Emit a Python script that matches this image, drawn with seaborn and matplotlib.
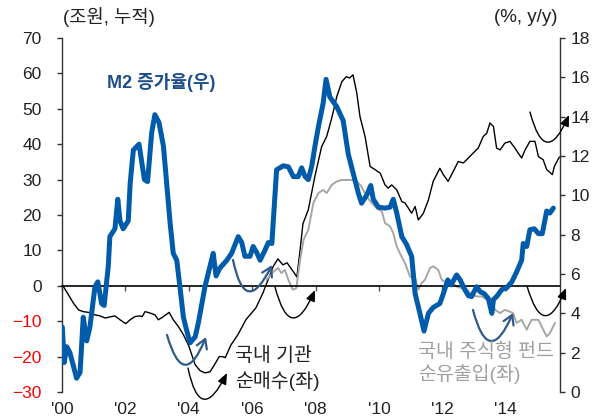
import matplotlib
matplotlib.use("Agg")
import matplotlib.pyplot as plt
import seaborn as sns

# 국내 기관 순매수 (좌, 조원 누적)
inst_year = [2000.01, 2000.20, 2000.36, 2000.52, 2000.67, 2000.83, 2001.04, 2001.20, 2001.36, 2001.51,
             2001.67, 2001.83, 2002.01, 2002.15, 2002.30, 2002.46, 2002.53, 2002.62, 2002.78, 2002.93,
             2003.04, 2003.20, 2003.38, 2003.51, 2003.67, 2003.83, 2004.00, 2004.20, 2004.36, 2004.51,
             2004.67, 2004.83, 2004.96, 2005.06, 2005.15, 2005.33, 2005.55, 2005.80, 2005.93, 2006.12,
             2006.34, 2006.50, 2006.66, 2006.81, 2006.97, 2007.10, 2007.32, 2007.41, 2007.51, 2007.60,
             2007.77, 2007.98, 2008.19, 2008.35, 2008.51, 2008.67, 2008.83, 2008.97, 2009.07, 2009.18,
             2009.30, 2009.40, 2009.56, 2009.72, 2009.88, 2010.04, 2010.19, 2010.29, 2010.40, 2010.56,
             2010.72, 2010.82, 2010.93, 2011.03, 2011.14, 2011.24, 2011.40, 2011.56, 2011.71, 2011.92,
             2012.03, 2012.18, 2012.34, 2012.50, 2012.66, 2012.82, 2012.97, 2013.13, 2013.29, 2013.40,
             2013.50, 2013.61, 2013.71, 2013.82, 2013.97, 2014.13, 2014.29, 2014.39, 2014.50, 2014.61,
             2014.76, 2014.92, 2015.03, 2015.18, 2015.29, 2015.36, 2015.47, 2015.53, 2015.69]
inst_val = [0.3, -2.5, -4.9, -6.8, -7.3, -7.5, -8.2, -8.5, -9.1, -8.8,
            -8.5, -9.6, -10.7, -9.6, -8.7, -8.5, -8.7, -7.3, -7.7, -8.2,
            -9.6, -8.7, -7.5, -9.6, -11.5, -13.8, -17.0, -22.3, -24.0, -24.6,
            -24.3, -22.0, -20.0, -20.0, -20.3, -16.7, -13.8, -9.6, -8.2, -6.2,
            -2.0, 1.7, 5.4, 7.6, 5.9, 6.5, 3.7, 2.5, 10.0, 17.5,
            21.5, 31.0, 39.3, 42.2, 47.4, 53.5, 57.7, 59.1, 58.7, 59.6,
            54.4, 47.8, 42.2, 33.7, 32.8, 31.8, 28.5, 27.6, 28.5, 27.1,
            23.8, 23.4, 21.9, 20.5, 22.4, 18.6, 20.5, 24.3, 29.5, 33.2,
            31.4, 29.5, 32.3, 35.1, 34.7, 36.1, 37.5, 38.9, 42.2, 43.1,
            46.0, 45.0, 38.9, 38.4, 40.3, 40.8, 38.9, 37.5, 36.1, 38.4,
            40.8, 40.8, 36.5, 35.6, 32.8, 32.3, 31.4, 33.7, 36.4]

# 국내 주식형 펀드 순유출입 (좌)
fund_year = [2006.45, 2006.67, 2006.82, 2006.92, 2007.03, 2007.14, 2007.28, 2007.39, 2007.51, 2007.62,
             2007.77, 2007.93, 2008.09, 2008.24, 2008.35, 2008.51, 2008.67, 2008.83, 2008.99, 2009.14,
             2009.30, 2009.45, 2009.61, 2009.77, 2009.93, 2010.09, 2010.19, 2010.35, 2010.45, 2010.56,
             2010.66, 2010.82, 2010.98, 2011.14, 2011.24, 2011.35, 2011.45, 2011.61, 2011.71, 2011.87,
             2011.98, 2012.14, 2012.29, 2012.45, 2012.61, 2012.77, 2012.92, 2013.08, 2013.24, 2013.40,
             2013.56, 2013.66, 2013.82, 2013.97, 2014.13, 2014.23, 2014.34, 2014.50, 2014.66, 2014.81,
             2015.03, 2015.13, 2015.29, 2015.39, 2015.55]
fund_val = [1.7, 4.0, 5.0, 3.6, 4.5, 1.7, -1.1, -0.7, 7.3, 13.0,
            15.8, 23.4, 26.2, 27.1, 26.2, 28.5, 29.5, 29.9, 29.9, 29.9,
            29.5, 28.0, 25.2, 23.4, 21.9, 21.0, 17.7, 16.8, 14.9, 11.1,
            9.2, 6.4, 2.6, 2.2, -1.1, 0.8, 1.7, 5.0, 5.5, 4.5,
            1.7, 0.8, 1.2, -0.2, -0.7, -1.1, -2.5, -3.0, -3.0, -3.9,
            -3.9, -6.8, -7.7, -6.8, -7.3, -7.7, -10.5, -9.6, -12.4, -9.6,
            -9.6, -11.5, -14.3, -13.4, -10.5]

# M2 증가율 (우, % y/y)
m2_year = [2000.01, 2000.07, 2000.15, 2000.25, 2000.46, 2000.57, 2000.67, 2000.78, 2000.88, 2001.04,
           2001.13, 2001.25, 2001.33, 2001.46, 2001.51, 2001.67, 2001.76, 2001.83, 2001.93, 2002.09,
           2002.15, 2002.25, 2002.43, 2002.60, 2002.70, 2002.83, 2002.93, 2003.06, 2003.20, 2003.41,
           2003.51, 2003.62, 2003.72, 2003.83, 2003.93, 2004.04, 2004.20, 2004.30, 2004.51, 2004.67,
           2004.77, 2004.86, 2004.98, 2005.20, 2005.35, 2005.46, 2005.56, 2005.67, 2005.77, 2005.93,
           2006.03, 2006.14, 2006.25, 2006.40, 2006.51, 2006.62, 2006.77, 2006.98, 2007.14, 2007.30,
           2007.45, 2007.56, 2007.67, 2007.77, 2007.88, 2007.98, 2008.09, 2008.24, 2008.33, 2008.45,
           2008.67, 2008.87, 2009.03, 2009.19, 2009.35, 2009.45, 2009.61, 2009.74, 2009.82, 2009.98,
           2010.19, 2010.35, 2010.45, 2010.56, 2010.72, 2010.87, 2011.03, 2011.14, 2011.29, 2011.42,
           2011.56, 2011.71, 2011.92, 2012.03, 2012.17, 2012.27, 2012.45, 2012.56, 2012.71, 2012.82,
           2012.92, 2013.08, 2013.19, 2013.32, 2013.45, 2013.56, 2013.61, 2013.71, 2013.87, 2014.03,
           2014.19, 2014.34, 2014.50, 2014.55, 2014.66, 2014.76, 2014.90, 2015.03, 2015.15, 2015.29,
           2015.39, 2015.50]
m2_val = [3.3, 1.5, 2.3, 2.0, 0.7, 1.0, 3.8, 2.6, 3.3, 5.35,
          5.6, 4.5, 4.4, 6.4, 7.9, 8.3, 9.8, 8.7, 8.3, 8.7,
          10.6, 12.3, 12.6, 10.8, 10.7, 13.2, 14.1, 13.7, 12.5, 8.6,
          7.05, 6.7, 5.35, 3.8, 3.15, 2.5, 2.8, 3.5, 5.35, 6.4,
          7.05, 5.9, 6.3, 6.7, 7.05, 7.5, 7.9, 7.6, 6.9, 6.9,
          7.4, 7.1, 6.7, 7.2, 7.6, 7.55, 11.3, 11.5, 11.45, 10.95,
          10.95, 11.4, 10.95, 10.8, 11.5, 12.5, 13.5, 14.7, 15.9, 15.0,
          14.5, 13.8, 12.1, 11.1, 10.1, 9.6, 10.0, 10.5, 9.8, 9.4,
          9.35, 9.4, 9.8, 9.1, 7.9, 7.5, 6.9, 5.0, 4.0, 3.1,
          4.0, 4.3, 4.5, 5.0, 5.7, 5.45, 5.95, 5.7, 5.2, 4.9,
          4.85, 5.35, 5.1, 5.0, 4.75, 4.0, 4.7, 4.85, 5.2, 5.3,
          5.6, 6.1, 6.7, 7.55, 7.4, 8.25, 8.3, 8.05, 8.05, 9.2,
          9.1, 9.35]

year_ticks = [2000, 2002, 2004, 2006, 2008, 2010, 2012, 2014]
year_labels = ["'00", "'02", "'04", "'06", "'08", "'10", "'12", "'14"]
left_ticks = [-30, -20, -10, 0, 10, 20, 30, 40, 50, 60, 70]
right_ticks = [0, 2, 4, 6, 8, 10, 12, 14, 16, 18]

W, H = 604, 419


def fpos(x, y):
    # pixel position (from top-left) -> figure fraction
    return (x / W, 1 - y / H)


sns.set_theme(style="white")
plt.rcParams["font.family"] = ["Liberation Sans", "Noto Sans CJK KR", "DejaVu Sans"]

fig = plt.figure(figsize=(W / 100, H / 100), dpi=100)
ax = fig.add_axes([62 / W, 1 - 392 / H, (560 - 62) / W, (392 - 38) / H])
ax2 = ax.twinx()

sns.lineplot(x=inst_year, y=inst_val, ax=ax, color="black", linewidth=1.0)
sns.lineplot(x=fund_year, y=fund_val, ax=ax, color="#a6a6a6", linewidth=1.4)
sns.lineplot(x=m2_year, y=m2_val, ax=ax2, color="#005BAA", linewidth=3.6)

ax.set_xlim(2000, 2015.71)
ax.set_ylim(-30, 70)
ax2.set_ylim(0, 18)
for a in (ax, ax2):
    a.set_xlabel("")
    a.set_ylabel("")
    a.grid(False)
    a.set_facecolor("none")

spine_col = "#333333"
ax.spines["top"].set_visible(False)
ax.spines["right"].set_visible(False)
ax.spines["bottom"].set_position(("data", 0))
ax.spines["bottom"].set_color("black")
ax.spines["bottom"].set_linewidth(1.2)
ax.spines["left"].set_color(spine_col)
ax.spines["left"].set_linewidth(1.0)
for s in ("top", "left", "bottom"):
    ax2.spines[s].set_visible(False)
ax2.spines["right"].set_color(spine_col)
ax2.spines["right"].set_linewidth(1.0)

tick_size = 12.5
ax.set_xticks(year_ticks)
ax.set_xticklabels(year_labels)
ax.tick_params(axis="x", direction="out", length=3.6, width=1.0, color="#555555",
               pad=80, labelsize=tick_size, labelcolor="#222222", bottom=True)

ax.set_yticks(left_ticks)
ax.set_yticklabels([str(v).replace("-", "\u2212") for v in left_ticks])
ax.tick_params(axis="y", direction="out", length=3.6, width=1.0, color=spine_col,
               pad=11, labelsize=tick_size, left=True)
for lab, v in zip(ax.get_yticklabels(), left_ticks):
    lab.set_color("#ff0000" if v < 0 else "#222222")

ax2.set_yticks(right_ticks)
ax2.tick_params(axis="y", direction="out", length=3.6, width=1.0, color=spine_col,
                pad=4, labelsize=tick_size, labelcolor="#222222", right=True)

# 단위
fig.text(*fpos(63, 17), "(조원, 누적)", ha="left", va="center", fontsize=13.5, color="#222222")
fig.text(*fpos(557, 18), "(%, y/y)", ha="right", va="center", fontsize=13.5, color="#222222")

# 계열 이름
fig.text(*fpos(107, 82), "M2 증가율(우)", ha="left", va="center", fontsize=13,
         fontweight="bold", color="#1F4E8C")
fig.text(*fpos(235, 356), "국내 기관", ha="left", va="center", fontsize=14, color="#222222")
fig.text(*fpos(235, 381), "순매수(좌)", ha="left", va="center", fontsize=14, color="#222222")
fig.text(*fpos(418, 352), "국내 주식형 펀드", ha="left", va="center", fontsize=14, color="#a0a0a0")
fig.text(*fpos(418, 374), "순유출입(좌)", ha="left", va="center", fontsize=14, color="#a0a0a0")

# 굴곡 화살표 (시작, 끝, 색)
arrows = [
    ((167, 335), (206, 337), "#2F5A8A", "->"),
    ((188, 368), (227, 373), "black", "-|>"),
    ((233, 260), (272, 265), "#2F5A8A", "->"),
    ((275, 287), (315, 290), "black", "-|>"),
    ((473, 310), (513, 313), "#2F5A8A", "->"),
    ((527, 286), (566, 288), "black", "-|>"),
    ((530, 112), (569, 115), "black", "-|>"),
]
for start, end, col, style in arrows:
    if style == "-|>":
        head = ",head_length=0.6,head_width=0.25"
        lw, scale = 1.0, 11
    else:
        head = ",head_length=0.5,head_width=0.3"
        lw, scale = 1.6, 13
    fig.add_artist(matplotlib.patches.FancyArrowPatch(
        fpos(*start), fpos(*end), transform=fig.transFigure,
        connectionstyle="arc3,rad=1.45", arrowstyle=style + head,
        color=col, linewidth=lw, mutation_scale=scale, shrinkA=0, shrinkB=0))

fig.savefig("out.png", dpi=100)
